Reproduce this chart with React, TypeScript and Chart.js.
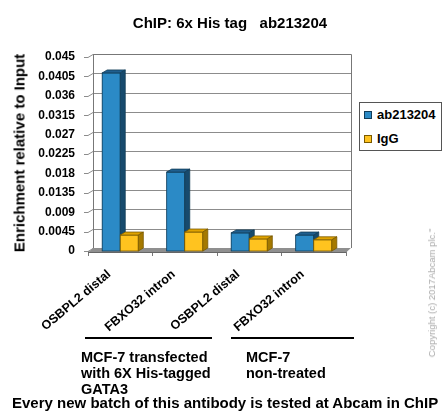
import React, { useEffect, useRef } from "react";
import { Chart, registerables } from "chart.js";

Chart.register(...registerables);

const categories = ["OSBPL2 distal", "FBXO32 intron", "OSBPL2 distal", "FBXO32 intron"];
const abValues = [0.0413, 0.0183, 0.0042, 0.0037];
const iggValues = [0.0037, 0.0044, 0.0028, 0.0026];
const yTickValues = [0, 0.0045, 0.009, 0.0135, 0.018, 0.0225, 0.027, 0.0315, 0.036, 0.0405, 0.045];
const yTickLabels = ["0", "0.0045", "0.009", "0.0135", "0.018", "0.0225", "0.027", "0.0315", "0.036", "0.0405", "0.045"];
const seriesNames = ["ab213204", "IgG"];

const FONT = '"Liberation Sans", Arial, sans-serif';
const DX = 5;
const DY = -3;

const faceColors = [
  { front: "#2b8ac6", top: "#1f5f8f", side: "#174a6d", edge: "#123c58" },
  { front: "#ffc31f", top: "#e0a300", side: "#a57900", edge: "#7a5a00" },
];

const threeD = {
  id: "threeD",
  beforeDatasetsDraw(chart: any) {
    const { ctx, chartArea } = chart;
    const y = chart.scales.y;
    const { left, right, top, bottom } = chartArea;
    ctx.save();
    ctx.strokeStyle = "#8c8c8c";
    ctx.lineWidth = 1;
    y.ticks.forEach((t: any) => {
      const py = Math.round(y.getPixelForValue(t.value)) + 0.5;
      ctx.beginPath();
      ctx.moveTo(left - 4, py);
      ctx.lineTo(left, py);
      ctx.lineTo(left + DX, py + DY);
      if (t.value > 0) ctx.lineTo(right + DX, py + DY);
      ctx.stroke();
    });
    ctx.strokeStyle = "#777";
    ctx.beginPath();
    ctx.moveTo(left + DX + 0.5, bottom + DY);
    ctx.lineTo(left + DX + 0.5, top + DY + 0.5);
    ctx.lineTo(right + DX + 0.5, top + DY + 0.5);
    ctx.lineTo(right + DX + 0.5, bottom + DY);
    ctx.stroke();
    ctx.fillStyle = "#8f8f8f";
    ctx.beginPath();
    ctx.moveTo(left, bottom + 1.5);
    ctx.lineTo(right, bottom + 1.5);
    ctx.lineTo(right + DX, bottom + DY);
    ctx.lineTo(left + DX, bottom + DY);
    ctx.closePath();
    ctx.fill();
    ctx.strokeStyle = "#666";
    ctx.beginPath();
    ctx.moveTo(left, bottom + 1.5);
    ctx.lineTo(right, bottom + 1.5);
    ctx.stroke();
    ctx.restore();
  },
  afterDatasetsDraw(chart: any) {
    const { ctx } = chart;
    ctx.save();
    ctx.lineWidth = 0.8;
    [0, 1].forEach((di) => {
      const meta = chart.getDatasetMeta(di);
      const c = faceColors[di];
      meta.data.forEach((bar: any) => {
        const { x, y, width, base } = bar.getProps(["x", "y", "width", "base"], true);
        const l = x - width / 2;
        const r = x + width / 2;
        ctx.strokeStyle = c.edge;
        ctx.fillStyle = c.front;
        ctx.fillRect(l, y, width, base - y);
        ctx.strokeRect(l, y, width, base - y);
        ctx.fillStyle = c.top;
        ctx.beginPath();
        ctx.moveTo(l, y);
        ctx.lineTo(l + DX, y + DY);
        ctx.lineTo(r + DX, y + DY);
        ctx.lineTo(r, y);
        ctx.closePath();
        ctx.fill();
        ctx.stroke();
        ctx.fillStyle = c.side;
        ctx.beginPath();
        ctx.moveTo(r, y);
        ctx.lineTo(r + DX, y + DY);
        ctx.lineTo(r + DX, base + DY);
        ctx.lineTo(r, base);
        ctx.closePath();
        ctx.fill();
        ctx.stroke();
      });
    });
    ctx.restore();
  },
};

export default function App() {
  const ref = useRef<HTMLCanvasElement | null>(null);
  useEffect(() => {
    if (!ref.current) return;
    const chart = new Chart(ref.current, {
      type: "bar",
      data: {
        labels: categories,
        datasets: [
          { label: seriesNames[0], data: abValues, backgroundColor: faceColors[0].front, borderWidth: 0, barPercentage: 1, categoryPercentage: 0.56 },
          { label: seriesNames[1], data: iggValues, backgroundColor: faceColors[1].front, borderWidth: 0, barPercentage: 1, categoryPercentage: 0.56 },
        ],
      },
      options: {
        responsive: false,
        animation: false,
        devicePixelRatio: 1,
        layout: { padding: { left: 0, top: 57, right: 96, bottom: 0 } },
        plugins: { legend: { display: false }, title: { display: false }, tooltip: { enabled: false } },
        scales: {
          y: {
            min: 0,
            max: 0.045,
            grid: { display: false },
            border: { display: false },
            afterBuildTicks: (s: any) => {
              s.ticks = yTickValues.map((v) => ({ value: v }));
            },
            afterFit: (s: any) => {
              s.width = 88;
            },
            ticks: {
              padding: 5,
              color: "#000",
              font: { family: FONT, size: 12, weight: "bold" },
              callback: (_v: any, i: number) => yTickLabels[i],
            },
          },
          x: {
            grid: { drawOnChartArea: false, drawTicks: true, tickLength: 5, color: "#777", offset: true },
            border: { display: false },
            afterFit: (s: any) => {
              s.height = 168;
            },
            ticks: {
              minRotation: 40,
              maxRotation: 40,
              padding: 11,
              labelOffset: -11,
              color: "#000",
              font: { family: FONT, size: 12.5, weight: "bold" },
            },
          },
        },
      },
      plugins: [threeD],
    } as any);
    return () => chart.destroy();
  }, []);

  const abs = (s: React.CSSProperties): React.CSSProperties => ({ position: "absolute", whiteSpace: "nowrap", fontFamily: FONT, ...s });

  return (
    <div style={{ position: "absolute", left: 0, top: 0, width: 442, height: 419, overflow: "hidden", background: "#fff" }}>
      <canvas ref={ref} width={442} height={419} style={{ position: "absolute", left: 0, top: 0 }} />
      <div style={abs({ left: 230, top: 15, transform: "translateX(-50%)", fontSize: 15, lineHeight: "15px", fontWeight: "bold", whiteSpace: "pre" })}>
        {"ChIP: 6x His tag   ab213204"}
      </div>
      <div style={abs({ left: 19, top: 153, transform: "translate(-50%,-50%) rotate(-90deg)", fontSize: 15, lineHeight: "15px", fontWeight: "bold" })}>
        Enrichment relative to Input
      </div>
      <div style={abs({ left: 359, top: 102, width: 81, height: 47, border: "1px solid #555", background: "#fff" })}>
        {seriesNames.map((n, i) => (
          <div key={n} style={abs({ left: 4, top: 4 + i * 24, height: 15, display: "flex", alignItems: "center", fontSize: 13, fontWeight: "bold" })}>
            <span style={{ display: "inline-block", width: 6, height: 6, background: faceColors[i].front, border: `1px solid ${faceColors[i].edge}`, marginRight: 5 }} />
            {n}
          </div>
        ))}
      </div>
      <div style={abs({ left: 85, top: 337, width: 127, height: 2, background: "#000" })} />
      <div style={abs({ left: 231, top: 337, width: 123, height: 2, background: "#000" })} />
      <div style={abs({ left: 81, top: 349, fontSize: 14.5, lineHeight: "16px", fontWeight: "bold" })}>
        MCF-7 transfected<br />with 6X His-tagged<br />GATA3
      </div>
      <div style={abs({ left: 246, top: 349, fontSize: 14.5, lineHeight: "16px", fontWeight: "bold" })}>
        MCF-7<br />non-treated
      </div>
      <div style={abs({ left: 12, top: 395, fontSize: 15, lineHeight: "15px", fontWeight: "bold" })}>
        Every new batch of this antibody is tested at Abcam in ChIP
      </div>
      <div style={abs({ left: 432, top: 293, transform: "translate(-50%,-50%) rotate(-90deg)", fontSize: 9.5, lineHeight: "10px", color: "#aaa" })}>
        Copyright (c) 2017Abcam plc."
      </div>
    </div>
  );
}
